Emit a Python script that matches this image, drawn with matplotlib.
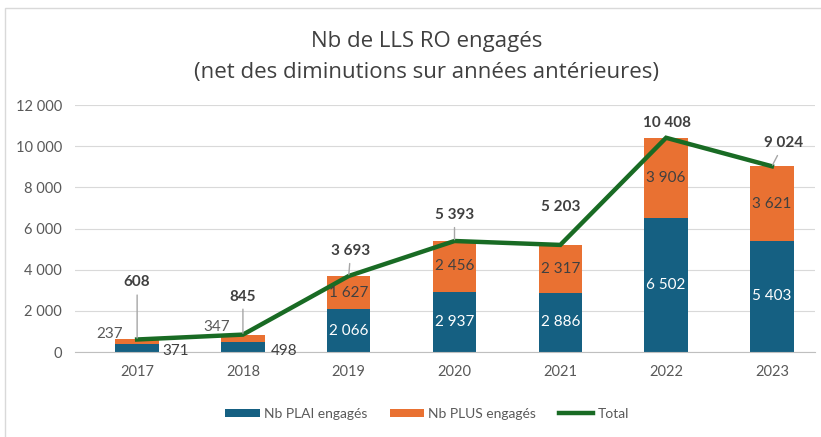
import matplotlib; matplotlib.use("Agg")
import matplotlib.pyplot as plt
from matplotlib.patches import Rectangle
from matplotlib.ticker import FuncFormatter

years = ["2017", "2018", "2019", "2020", "2021", "2022", "2023"]
plai = [371, 498, 2066, 2937, 2886, 6502, 5403]
plus = [237, 347, 1627, 2456, 2317, 3906, 3621]
total = [608, 845, 3693, 5393, 5203, 10408, 9024]

# label offsets in pixels (dx, dy) relative to the anchor point
tot_off = [(0, 57), (0, 38), (2, 25), (0, 26), (0, 38), (1, 15), (12, 23)]
tot_leader = [True, True, True, True, False, False, True]
plus_off = [(-28, 8), (-26, 11), None, None, None, None, None]
plai_off = [(39, -3), (41, -4), None, None, None, None, None]

BLUE, ORANGE, GREEN = "#156082", "#E97132", "#196B24"
TXT = "#404040"
FONT = ["Lato", "DejaVu Sans"]

def fmt(v):
    return f"{v:,}".replace(",", " ")

plt.rcParams["font.family"] = FONT
fig = plt.figure(figsize=(8.21, 4.37), dpi=100)
ax = fig.add_axes([0.091, 0.1945, 0.902, 0.5652])

x = range(len(years))
b1 = ax.bar(x, plai, width=0.41, color=BLUE, label="Nb PLAI engagés", zorder=2)
b2 = ax.bar(x, plus, width=0.41, bottom=plai, color=ORANGE, label="Nb PLUS engagés", zorder=2)
ln, = ax.plot(x, total, color=GREEN, lw=3.2, label="Total", zorder=3, solid_joinstyle="miter")

for i in x:
    # PLAI
    if plai_off[i]:
        ax.annotate(fmt(plai[i]), (i, plai[i] / 2), xytext=plai_off[i], textcoords="offset pixels",
                    ha="center", va="center", fontsize=11, color=TXT, zorder=4)
    else:
        ax.text(i, plai[i] / 2, fmt(plai[i]), ha="center", va="center", fontsize=11,
                color="white", zorder=4)
    # PLUS
    yp = plai[i] + plus[i] / 2
    if plus_off[i]:
        ax.annotate(fmt(plus[i]), (i, yp), xytext=plus_off[i], textcoords="offset pixels",
                    ha="center", va="center", fontsize=11, color="#595959", zorder=4)
    else:
        ax.text(i, yp, fmt(plus[i]), ha="center", va="center", fontsize=11, color=TXT, zorder=4)
    # Total
    ap = dict(arrowstyle="-", color="#a6a6a6", lw=1, shrinkA=2, shrinkB=1) if tot_leader[i] else None
    ax.annotate(fmt(total[i]), (i, total[i]), xytext=tot_off[i], textcoords="offset pixels",
                ha="center", va="center", fontsize=11, fontweight="bold", color=TXT,
                arrowprops=ap, zorder=5)

ax.set_ylim(0, 12000)
ax.set_xlim(-0.59, 6.41)
ax.set_yticks(range(0, 12001, 2000))
ax.yaxis.set_major_formatter(FuncFormatter(lambda v, p: fmt(int(v))))
ax.set_xticks(list(x))
ax.set_xticklabels(years)
ax.tick_params(length=0, labelsize=10.5, labelcolor="#595959")
ax.tick_params(axis="y", pad=9)
ax.tick_params(axis="x", pad=9)
ax.grid(axis="y", color="#d9d9d9", lw=0.8, zorder=0)
for s in ["top", "right", "left"]:
    ax.spines[s].set_visible(False)
ax.spines["bottom"].set_color("#bfbfbf")
ax.set_axisbelow(True)

title_font = ["Liberation Sans Narrow", "Open Sans", "DejaVu Sans"]
fig.text(0.52, 0.904, "Nb de LLS RO engagés", ha="center", va="center", fontsize=16,
         color="#404040", family=title_font)
fig.text(0.52, 0.835, "(net des diminutions sur années antérieures)", ha="center", va="center",
         fontsize=16, color="#404040", family=title_font)

fig.legend([b1, b2, ln], ["Nb PLAI engagés", "Nb PLUS engagés", "Total"],
           loc="center", bbox_to_anchor=(0.52, 0.053), ncol=3, frameon=False, fontsize=10,
           labelcolor="#595959", handlelength=2.5, handleheight=0.6, handletextpad=0.3,
           columnspacing=1.6)

fig.patches.append(Rectangle((0.006, -0.1), 1.2, 1.082, transform=fig.transFigure,
                             fill=False, ec="#d9d9d9", lw=1))

fig.savefig("out.png", dpi=100)
